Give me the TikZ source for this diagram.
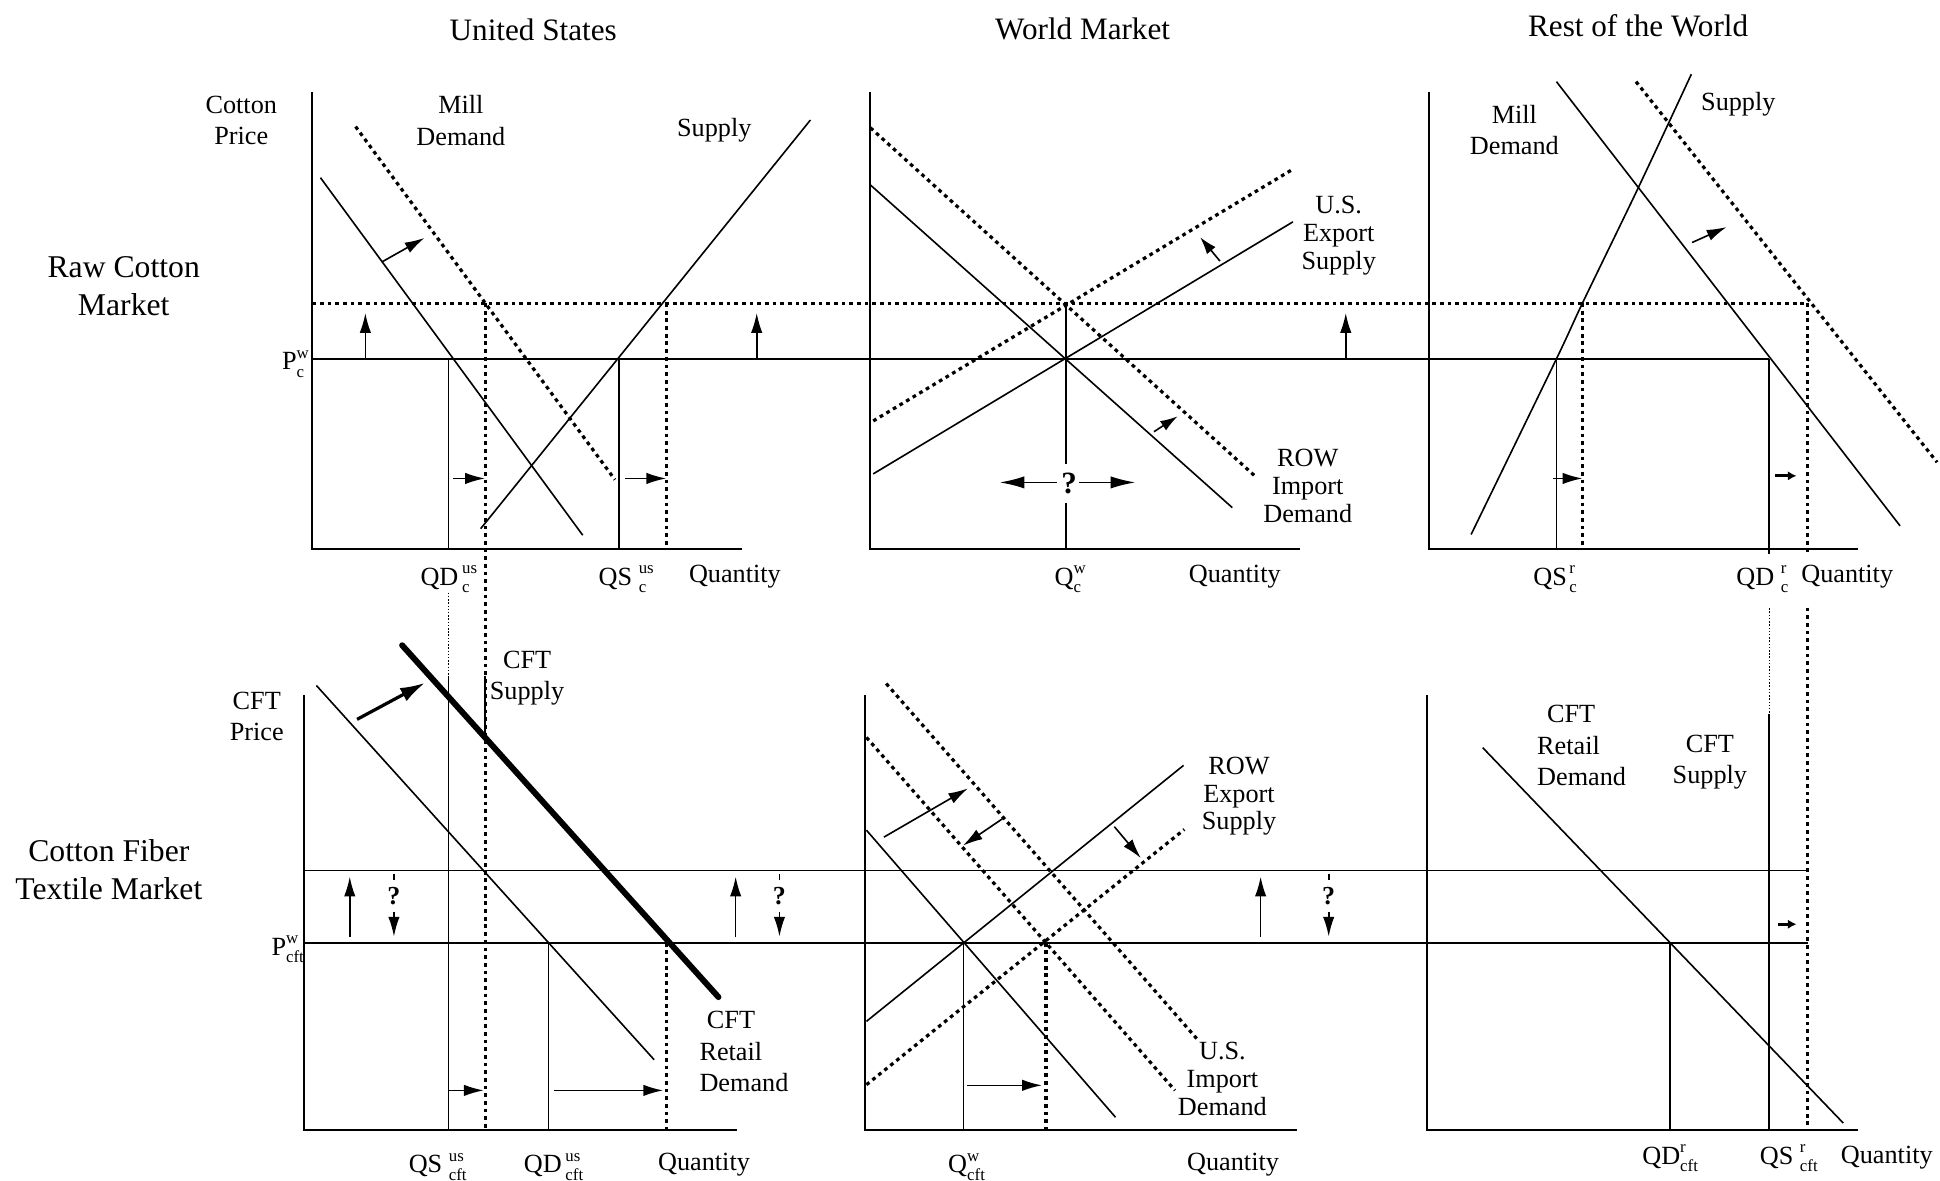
\documentclass[tikz,border=0pt]{standalone}
\usepackage{fontspec}
\setmainfont{Liberation Serif}
\usetikzlibrary{arrows.meta}
\newcommand\sps[2]{{\fontsize{6.8}{7.5}\selectfont\setbox0=\hbox{#1}\setbox2=\hbox{#2}\ifdim\wd0>\wd2 \rlap{\raisebox{-2.9pt}{#2}}\raisebox{4.7pt}{#1}\else\rlap{\raisebox{4.7pt}{#1}}\raisebox{-2.9pt}{#2}\fi}}
\begin{document}
\begin{tikzpicture}[x=0.5pt,y=-0.5pt,
  ln/.style={line width=0.65pt},
  ax/.style={line width=0.8pt},
  thk/.style={line width=2.4pt,line cap=round},
  dsh/.style={line width=1.3pt,dash pattern=on 1.5pt off 1.6pt},
  tdot/.style={line width=0.45pt,dash pattern=on 0.6pt off 0.7pt},
  arr/.style={line width=0.65pt,-{Latex[length=8pt,width=4.6pt]}},
  barr/.style={line width=1.3pt,-{Latex[length=10pt,width=6pt]}},
  sarr/.style={line width=1.1pt,-{Latex[length=3.5pt,width=3.8pt]}},
  lbl/.style={font=\fontsize{10.6}{12.7}\selectfont,align=center,inner sep=0pt},
  wlbl/.style={font=\fontsize{10.6}{11.3}\selectfont,align=center,inner sep=0pt},
  ttl/.style={font=\fontsize{12.6}{15}\selectfont,inner sep=0pt},
  rowlbl/.style={font=\fontsize{12.8}{15.3}\selectfont,align=center,inner sep=0pt},
  qm/.style={font=\fontsize{12.5}{14}\selectfont\bfseries,inner sep=0pt},
  qms/.style={font=\fontsize{10.5}{12}\selectfont\bfseries,inner sep=0pt}]
\useasboundingbox (0,0) rectangle (1568,954);

% ---------- titles and row labels
\node[ttl] (tUS) at (431,24) {United States};
\node[ttl] (tWM) at (875,23) {World Market};
\node[ttl] (tRW) at (1324,21) {Rest of the World};
\node[rowlbl] (rRaw) at (100,231.5) {Raw Cotton\\Market};
\node[rowlbl] (rCFT) at (88,703) {Cotton Fiber\\Textile Market};

% ---------- shared horizontal price lines
\draw[ln] (252.4,290) -- (1430,290);
\draw[dsh] (252.4,245) -- (1461,245);
\draw[ln] (246,703.6) -- (1461,703.6);
\draw[ln] (246,762) -- (1461,762);

% ---------- top-left: US raw cotton
\draw[ax] (252.4,74) -- (252.4,444) -- (600,444);
\draw[ln] (259,143.6) -- (471,432.6);
\draw[dsh] (287.4,102.3) -- (497,387.7);
\draw[ln] (388.5,427.3) -- (655,97);
\draw[ln] (362.5,290) -- (362.5,444);
\draw[dsh] (392.3,245) -- (392.3,913);
\draw[ln] (500.2,290) -- (500.2,444);
\draw[dsh] (539,245) -- (539,444);
\draw[arr] (295.3,290) -- (295.3,253);
\draw[arr] (611.6,290) -- (611.6,253);
\draw[arr] (1087.7,290) -- (1087.7,253);
\draw[arr] (366.2,386.7) -- (392,386.7);
\draw[arr] (505.2,386.7) -- (538.5,386.7);
\draw[arr] (308.5,211.8) -- (343.1,192.3);
\node[lbl] (cp) at (195,97.5) {Cotton\\Price};
\node[lbl] (md1) at (372.5,97.5) {Mill\\Demand};
\node[lbl] (sup1) at (577.3,105.5) {Supply};
\node[lbl,anchor=base east] (pw1) at (250,299) {P\sps{w}{c}};
\node[lbl,anchor=base west] (qd1) at (339.5,473) {QD\hspace{1.5pt}\sps{us}{c}};
\node[lbl,anchor=base west] (qs1) at (483.5,473) {QS \sps{us}{c}};
\node[lbl,anchor=base] (q1) at (594,471) {Quantity};

% ---------- top-middle: world raw cotton
\draw[ax] (703.5,74) -- (703.5,444) -- (1051,444);
\draw[ln] (703.5,149.5) -- (996,410.3);
\draw[dsh] (703.5,103.3) -- (1015.8,386.1);
\draw[ln] (705.8,383) -- (1045,179.3);
\draw[dsh] (705.8,340.2) -- (1043.9,137.4);
\draw[ln] (861.4,245) -- (861.4,375.3);
\draw[ln] (861.4,406.3) -- (861.4,444);
\node[qm] (qmk) at (864,391) {?};
\draw[line width=0.65pt,-{Latex[length=10pt,width=5pt]}] (854.3,389.9) -- (808,389.9);
\draw[line width=0.65pt,-{Latex[length=10pt,width=5pt]}] (872,389.9) -- (917.6,389.9);
\draw[line width=0.65pt,-{Latex[length=7pt,width=4.5pt]}] (986,211) -- (970,191.7);
\draw[line width=0.65pt,-{Latex[length=7pt,width=4.5pt]}] (932.7,348.9) -- (951.8,336.5);
\node[wlbl] (ues) at (1082,190.5) {U.S.\\Export\\Supply};
\node[wlbl] (rid) at (1057,393) {ROW\\Import\\Demand};
\node[lbl,anchor=base west] (qw1) at (852,473) {Q\sps{w}{c}};
\node[lbl,anchor=base] (q2) at (998,471) {Quantity};

% ---------- top-right: rest of world raw cotton
\draw[ax] (1154.7,74) -- (1154.7,444) -- (1502,444);
\draw[ln] plot[smooth] coordinates {(1189,432) (1258,290) (1279,245) (1324,152) (1367,60)};
\draw[ln] (1258,66) -- (1535.7,425);
\draw[dsh] (1322.3,66) -- (1565.6,373.6);
\draw[ln] (1258,290) -- (1258,444);
\draw[dsh] (1279,245) -- (1279,444);
\draw[ln] (1430,290) -- (1430,448);
\draw[dsh] (1461,245) -- (1461,449);
\draw[tdot] (1430,491.6) -- (1430,577);
\draw[ln] (1430,577) -- (1430,913);
\draw[dsh] (1461,491) -- (1461,913);
\draw[arr] (1367.6,196) -- (1395.5,183.5);
\draw[arr] (1255.5,386.7) -- (1279,386.7);
\draw[sarr] (1435,384.6) -- (1452,384.6);
\node[lbl] (md3) at (1224,105) {Mill\\Demand};
\node[lbl] (sup3) at (1405,84) {Supply};
\node[lbl,anchor=base west] (qs3) at (1239,473) {QS\hspace{1pt}\sps{r}{c}};
\node[lbl,anchor=base west] (qd3) at (1403,473) {QD \sps{r}{c}};
\node[lbl,anchor=base] (q3) at (1493,471) {Quantity};

% ---------- bottom-left: US CFT
\draw[ax] (246,562) -- (246,913) -- (596,913);
\draw[ln] (255.7,554) -- (528.7,856.5);
\draw[thk] (325,521.5) -- (580.7,805.9);
\draw[tdot] (362.5,479) -- (362.5,546);
\draw[ln] (362.5,546) -- (362.5,913);
\draw[line width=0.9pt] (392.3,546) -- (392.3,595);
\draw[ln] (443.3,762) -- (443.3,913);
\draw[dsh] (539,762) -- (539,913);
\draw[barr] (288.6,581.4) -- (343.5,551.9);
\draw[arr] (282.7,757) -- (282.7,708.5);
\draw[arr] (594.6,757) -- (594.6,708.5);
\draw[arr] (363,881.3) -- (391,881.3);
\draw[arr] (447.5,881.3) -- (536,881.3);
\draw[ln] (318.4,706) -- (318.4,711);
\node[qms] (qm1) at (318.4,724.6) {?};
\draw[arr] (318.4,737) -- (318.4,757);
\draw[ln] (630,706) -- (630,711);
\node[qms] (qm2) at (630,724.6) {?};
\draw[arr] (630,737) -- (630,757);
\node[lbl] (cftp) at (207.5,579) {CFT\\Price};
\node[lbl] (cfts1) at (426,548) {CFT\\Supply};
\node[lbl,anchor=base east] (pw2) at (246,772) {P\sps{w}{cft}};
\node[lbl,align=left,anchor=west] (crd1) at (565,850) {\hspace*{3pt}CFT\\Retail\\Demand};
\node[lbl,anchor=base west] (qs4) at (330,948) {QS \sps{us}{cft}};
\node[lbl,anchor=base west] (qd4) at (423,948) {QD\hspace{1.5pt}\sps{us}{cft}};
\node[lbl,anchor=base] (q4) at (569,946) {Quantity};

% ---------- bottom-middle: world CFT
\draw[ax] (699.3,562) -- (699.3,913) -- (1048.4,913);
\draw[ln] (700.3,671) -- (901.6,903);
\draw[dsh] (700.3,596) -- (949.6,881.3);
\draw[dsh] (716.3,552.5) -- (967.2,839.4);
\draw[ln] (700.3,825.5) -- (956.6,618.6);
\draw[dsh] (700.3,876.7) -- (957.2,670.4);
\draw[ln] (778.6,762) -- (778.6,913);
\draw[dsh] (845.5,762) -- (845.5,913);
\draw[arr] (714.4,676.6) -- (782.4,637.2);
\draw[arr] (811.2,661.1) -- (778.3,683.4);
\draw[arr] (900.7,668.2) -- (922.1,693.6);
\draw[arr] (1018.9,757) -- (1018.9,708.5);
\draw[ln] (1073.9,706) -- (1073.9,711);
\node[qms] (qm3) at (1073.9,724.6) {?};
\draw[arr] (1073.9,737) -- (1073.9,757);
\draw[arr] (781.9,877.2) -- (842.2,877.2);
\node[wlbl] (res) at (1001.4,643.5) {ROW\\Export\\Supply};
\node[wlbl] (uid) at (988,872) {U.S.\\Import\\Demand};
\node[lbl,anchor=base west] (qw2) at (766,948) {Q\sps{w}{cft}};
\node[lbl,anchor=base] (q5) at (996.6,946) {Quantity};

% ---------- bottom-right: rest of world CFT
\draw[ax] (1153,562) -- (1153,913) -- (1502,913);
\draw[ln] (1198.4,604.3) -- (1489.8,907.7);
\draw[ln] (1349.6,762) -- (1349.6,913);
\draw[sarr] (1437,747) -- (1452,747);
\node[lbl,align=left,anchor=west] (crd2) at (1242,602.5) {\hspace*{4pt}CFT\\Retail\\Demand};
\node[lbl] (cfts2) at (1382,616) {CFT\\Supply};
\node[lbl,anchor=base west] (qd6) at (1327,941) {QD\sps{r}{cft}};
\node[lbl,anchor=base west] (qs6) at (1422,941) {QS \sps{r}{cft}};
\node[lbl,anchor=base] (q6) at (1525,940) {Quantity};
\end{tikzpicture}
\end{document}
